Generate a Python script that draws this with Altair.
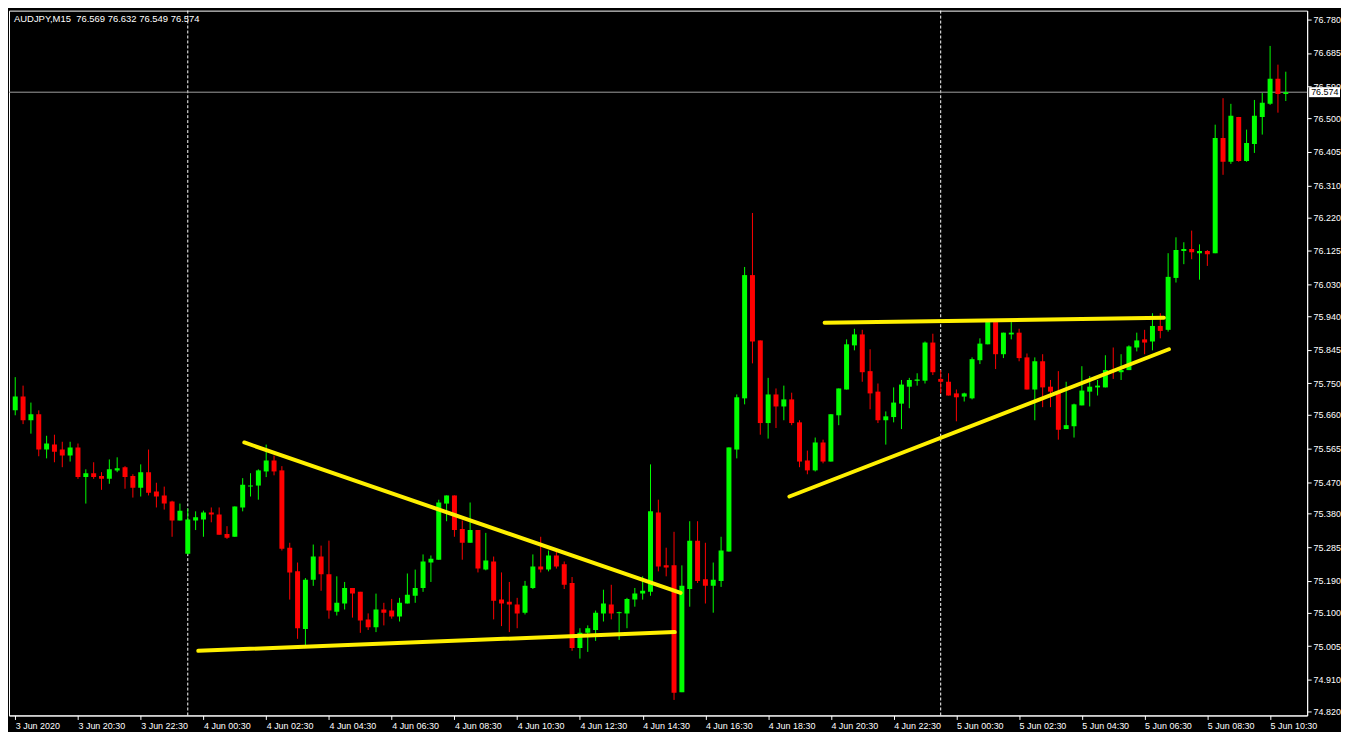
import json
import altair as alt
import pandas as pd

# ---------------- data ----------------
symbol = "AUDJPY"
timeframe = "M15"

opens = [75.673, 75.712, 75.645, 75.662, 75.562, 75.576, 75.562, 75.545, 75.568, 75.484,
         75.495, 75.487, 75.479, 75.503, 75.512, 75.487, 75.454, 75.498, 75.443, 75.432,
         75.415, 75.361, 75.267, 75.361, 75.364, 75.384, 75.378, 75.323, 75.315, 75.398,
         75.457, 75.460, 75.500, 75.531, 75.503, 75.284, 75.217, 75.054, 75.193, 75.259,
         75.209, 75.103, 75.126, 75.170, 75.159, 75.081, 75.059, 75.109, 75.106, 75.089,
         75.126, 75.148, 75.170, 75.242, 75.250, 75.409, 75.432, 75.337, 75.298, 75.334,
         75.222, 75.245, 75.137, 75.131, 75.123, 75.100, 75.170, 75.231, 75.222, 75.262,
         75.237, 75.184, 75.000, 75.043, 75.051, 75.098, 75.123, 75.100, 75.098, 75.137,
         75.154, 75.159, 75.384, 75.234, 75.234, 74.875, 75.167, 75.304, 75.195, 75.176,
         75.190, 75.273, 75.562, 75.707, 76.056, 75.871, 75.637, 75.718, 75.684, 75.704,
         75.639, 75.531, 75.503, 75.582, 75.528, 75.659, 75.732, 75.857, 75.888, 75.784,
         75.726, 75.645, 75.654, 75.692, 75.740, 75.757, 75.757, 75.865, 75.762, 75.754,
         75.721, 75.712, 75.707, 75.815, 75.860, 75.923, 75.832, 75.888, 75.893, 75.823,
         75.732, 75.812, 75.740, 75.726, 75.620, 75.628, 75.687, 75.726, 75.738, 75.738,
         75.787, 75.781, 75.787, 75.851, 75.874, 75.868, 75.912, 75.901, 76.048, 76.124,
         76.130, 76.118, 76.124, 76.118, 76.444, 76.377, 76.504, 76.379, 76.427, 76.504,
         76.541, 76.612, 76.569]

highs = [75.767, 75.743, 75.695, 75.673, 75.601, 75.604, 75.584, 75.584, 75.579, 75.506,
         75.526, 75.498, 75.534, 75.540, 75.515, 75.492, 75.520, 75.562, 75.468, 75.457,
         75.417, 75.409, 75.395, 75.387, 75.389, 75.398, 75.398, 75.345, 75.401, 75.481,
         75.495, 75.506, 75.576, 75.545, 75.515, 75.298, 75.242, 75.198, 75.293, 75.290,
         75.304, 75.203, 75.187, 75.170, 75.159, 75.098, 75.154, 75.128, 75.139, 75.142,
         75.211, 75.222, 75.265, 75.262, 75.420, 75.432, 75.432, 75.361, 75.412, 75.334,
         75.326, 75.259, 75.214, 75.187, 75.142, 75.190, 75.265, 75.315, 75.276, 75.276,
         75.245, 75.201, 75.056, 75.064, 75.106, 75.165, 75.179, 75.103, 75.142, 75.170,
         75.203, 75.520, 75.420, 75.284, 75.329, 75.234, 75.359, 75.359, 75.298, 75.242,
         75.315, 75.568, 75.718, 76.079, 76.232, 75.871, 75.765, 75.735, 75.743, 75.723,
         75.645, 75.559, 75.596, 75.590, 75.662, 75.735, 75.874, 75.904, 75.901, 75.846,
         75.749, 75.670, 75.738, 75.759, 75.765, 75.778, 75.868, 75.890, 75.787, 75.778,
         75.732, 75.723, 75.823, 75.877, 75.929, 75.929, 75.893, 75.923, 75.904, 75.834,
         75.823, 75.832, 75.759, 75.784, 75.754, 75.692, 75.798, 75.770, 75.759, 75.829,
         75.851, 75.832, 75.857, 75.893, 75.901, 75.948, 75.948, 76.118, 76.163, 76.149,
         76.182, 76.143, 76.127, 76.482, 76.557, 76.541, 76.504, 76.468, 76.552, 76.572,
         76.705, 76.652, 76.632]

lows = [75.659, 75.634, 75.607, 75.543, 75.537, 75.526, 75.512, 75.528, 75.479, 75.409,
        75.479, 75.448, 75.465, 75.498, 75.451, 75.426, 75.429, 75.432, 75.398, 75.392,
        75.315, 75.361, 75.265, 75.334, 75.315, 75.356, 75.321, 75.309, 75.315, 75.387,
        75.429, 75.420, 75.484, 75.489, 75.276, 75.137, 75.026, 75.006, 75.176, 75.162,
        75.083, 75.092, 75.109, 75.086, 75.043, 75.051, 75.045, 75.064, 75.083, 75.075,
        75.126, 75.128, 75.159, 75.187, 75.250, 75.359, 75.315, 75.250, 75.298, 75.214,
        75.220, 75.081, 75.062, 75.045, 75.056, 75.095, 75.167, 75.214, 75.217, 75.225,
        75.167, 74.992, 74.970, 74.989, 75.020, 75.075, 75.081, 75.023, 75.056, 75.117,
        75.137, 75.148, 75.217, 75.203, 74.853, 74.875, 75.117, 75.184, 75.126, 75.100,
        75.173, 75.273, 75.537, 75.690, 75.806, 75.604, 75.593, 75.623, 75.645, 75.631,
        75.512, 75.492, 75.500, 75.523, 75.528, 75.631, 75.732, 75.843, 75.754, 75.676,
        75.637, 75.576, 75.639, 75.620, 75.679, 75.743, 75.749, 75.773, 75.721, 75.715,
        75.642, 75.698, 75.704, 75.804, 75.860, 75.790, 75.821, 75.874, 75.812, 75.732,
        75.645, 75.682, 75.682, 75.590, 75.620, 75.596, 75.687, 75.684, 75.715, 75.738,
        75.762, 75.759, 75.787, 75.840, 75.832, 75.843, 75.877, 75.896, 76.035, 76.087,
        76.101, 76.043, 76.082, 76.118, 76.340, 76.371, 76.377, 76.377, 76.402, 76.454,
        76.538, 76.516, 76.549]

closes = [75.712, 75.645, 75.662, 75.562, 75.579, 75.556, 75.545, 75.568, 75.484, 75.495,
          75.484, 75.479, 75.506, 75.509, 75.484, 75.454, 75.498, 75.440, 75.429, 75.409,
          75.361, 75.389, 75.364, 75.370, 75.384, 75.378, 75.321, 75.312, 75.401, 75.462,
          75.460, 75.503, 75.531, 75.500, 75.281, 75.214, 75.056, 75.193, 75.259, 75.209,
          75.106, 75.128, 75.170, 75.154, 75.078, 75.059, 75.109, 75.100, 75.089, 75.128,
          75.151, 75.170, 75.245, 75.253, 75.412, 75.432, 75.334, 75.298, 75.334, 75.225,
          75.248, 75.134, 75.126, 75.123, 75.098, 75.176, 75.231, 75.222, 75.262, 75.231,
          75.179, 75.000, 75.043, 75.056, 75.100, 75.126, 75.098, 75.100, 75.139, 75.154,
          75.162, 75.387, 75.231, 75.228, 74.873, 75.176, 75.304, 75.190, 75.176, 75.193,
          75.276, 75.568, 75.710, 76.056, 75.868, 75.637, 75.718, 75.684, 75.704, 75.637,
          75.528, 75.503, 75.582, 75.528, 75.662, 75.735, 75.860, 75.888, 75.781, 75.721,
          75.645, 75.656, 75.695, 75.746, 75.759, 75.759, 75.865, 75.781, 75.754, 75.715,
          75.710, 75.721, 75.818, 75.862, 75.923, 75.832, 75.893, 75.893, 75.821, 75.732,
          75.812, 75.738, 75.726, 75.618, 75.631, 75.690, 75.729, 75.740, 75.743, 75.787,
          75.784, 75.787, 75.854, 75.871, 75.865, 75.912, 75.898, 76.051, 76.127, 76.130,
          76.121, 76.124, 76.115, 76.444, 76.377, 76.507, 76.379, 76.430, 76.507, 76.544,
          76.612, 76.569, 76.574]

# bottom axis labels, one every 8 bars (2 hours of M15 bars)
time_labels = ["3 Jun 2020", "3 Jun 20:30", "3 Jun 22:30", "4 Jun 00:30", "4 Jun 02:30",
               "4 Jun 04:30", "4 Jun 06:30", "4 Jun 08:30", "4 Jun 10:30", "4 Jun 12:30",
               "4 Jun 14:30", "4 Jun 16:30", "4 Jun 18:30", "4 Jun 20:30", "4 Jun 22:30",
               "5 Jun 00:30", "5 Jun 02:30", "5 Jun 04:30", "5 Jun 06:30", "5 Jun 08:30",
               "5 Jun 10:30"]
bars_per_label = 8

price_labels = [76.780, 76.685, 76.590, 76.500, 76.405, 76.310, 76.220, 76.125, 76.030,
                75.940, 75.845, 75.750, 75.660, 75.565, 75.470, 75.380, 75.285, 75.190,
                75.100, 75.005, 74.910, 74.820]

# day separators (bar index of 00:00)
day_separators = [22, 118]

# hand-drawn trend lines: (id, bar index, price)
trend_id = ["falling", "falling", "support", "support", "resistance", "resistance", "rising", "rising"]
trend_bar = [29.21, 84.84, 23.34, 84.09, 103.2, 146.46, 98.71, 147.1]
trend_price = [75.582, 75.156, 74.992, 75.045, 75.921, 75.935, 75.429, 75.846]

# ---------------- layout / style ----------------
W, H = 1304, 708
X_DOMAIN = [-0.16, 164.09]
Y_DOMAIN = [74.809, 76.805]
FONT = "Liberation Sans"
UP, DOWN = "#00FF00", "#FF0000"

candles = pd.DataFrame({
    "idx": list(range(len(opens))),
    "open": opens, "high": highs, "low": lows, "close": closes,
})
candles["dir"] = ["up" if c >= o else "down" for o, c in zip(opens, closes)]

seps = pd.DataFrame({"idx": day_separators})
trend = pd.DataFrame({"id": trend_id, "idx": trend_bar, "price": trend_price})
last = pd.DataFrame({"price": [closes[-1]], "label": [f"{closes[-1]:.3f}"]})
title_df = pd.DataFrame({"t": [f"{symbol},{timeframe}\u00a0 {opens[-1]:.3f} {highs[-1]:.3f} "
                               f"{lows[-1]:.3f} {closes[-1]:.3f}"]})

xscale = alt.Scale(domain=X_DOMAIN, nice=False, zero=False)
yscale = alt.Scale(domain=Y_DOMAIN, nice=False, zero=False)

xaxis = alt.Axis(
    values=[bars_per_label * k for k in range(len(time_labels))],
    labelExpr=f"{json.dumps(time_labels)}[round(datum.value / {bars_per_label})]",
    orient="bottom", title=None, grid=False,
    labelAlign="left", labelBaseline="top", labelPadding=2,
    labelColor="white", labelFont=FONT, labelFontSize=9,
    tickColor="white", tickSize=4, domainColor="white",
    labelFlush=False, labelOverlap=False,
)
yaxis = alt.Axis(
    values=price_labels, format=".3f", orient="right", title=None, grid=False,
    labelColor="white", labelFont=FONT, labelFontSize=9, labelPadding=2,
    tickColor="white", tickSize=4, domainColor="white",
    labelFlush=False, labelOverlap=False,
)

X = lambda f: alt.X(f, scale=xscale, axis=xaxis)
Y = lambda f: alt.Y(f, scale=yscale, axis=yaxis)
color = alt.Color("dir:N", scale=alt.Scale(domain=["up", "down"], range=[UP, DOWN]), legend=None)

sep_layer = alt.Chart(seps).mark_rule(color="white", strokeDash=[3, 2], strokeWidth=1).encode(
    x=X("idx:Q"))

price_line = alt.Chart(last).mark_rule(color="#a0a0a0", strokeWidth=1).encode(y=Y("price:Q"))

wicks = alt.Chart(candles).mark_rule(strokeWidth=1, clip=True).encode(
    x=X("idx:Q"), y=Y("low:Q"), y2="high:Q", color=color)

bodies = alt.Chart(candles).mark_bar(size=5, clip=True).encode(
    x=X("idx:Q"), y=Y("open:Q"), y2="close:Q", color=color)

doji = alt.Chart(candles).transform_filter(
    "abs(datum.open - datum.close) < 0.003"
).mark_rule(strokeWidth=1, xOffset=-2.5, x2Offset=2.5).encode(
    x=X("idx:Q"), x2="idx:Q", y=Y("close:Q"), color=color)

trend_layer = alt.Chart(trend).mark_line(color="#FFF000", strokeWidth=4, strokeCap="round").encode(
    x=X("idx:Q"), y=Y("price:Q"), detail="id:N")

price_box = alt.Chart(last).mark_rect(color="white", yOffset=-5, y2Offset=5).encode(
    x=alt.value(W + 2), x2=alt.value(W + 33), y=Y("price:Q"), y2="price:Q")

price_text = alt.Chart(last).mark_text(
    align="left", baseline="middle", color="black", font=FONT, fontSize=9
).encode(x=alt.value(W + 4), y=Y("price:Q"), text="label:N")

title = alt.Chart(title_df).mark_text(
    align="left", baseline="middle", color="white", font=FONT, fontSize=9.5
).encode(x=alt.value(5), y=alt.value(8), text="t:N")

chart = alt.layer(
    sep_layer, price_line, wicks, bodies, doji, trend_layer, price_box, price_text, title
).properties(
    width=W, height=H, background="black", padding=0
).configure_view(
    stroke="white", strokeWidth=1
)

chart.save("out.html", embed_options={"renderer": "svg", "actions": False})
